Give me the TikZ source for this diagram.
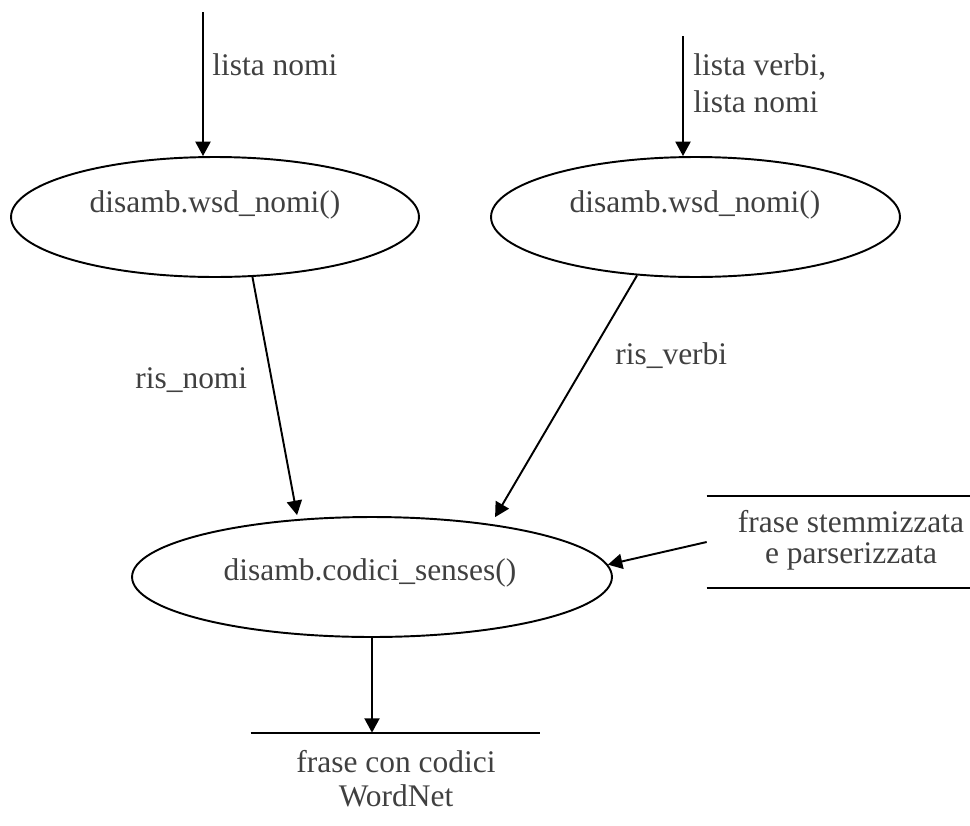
\documentclass[tikz,border=0pt]{standalone}
\usepackage{fontspec}
\setmainfont{Liberation Serif}
\usetikzlibrary{arrows.meta,shapes.geometric}
\definecolor{txt}{RGB}{64,64,64}
\begin{document}
\begin{tikzpicture}[x=0.02cm,y=-0.02cm,
  lbl/.style={inner sep=0pt,text=txt,font=\fontsize{17.9pt}{21pt}\selectfont},
  proc/.style={draw,ellipse,line width=1.1pt,inner sep=0pt,minimum height=2.4cm},
  store/.style={rectangle,inner sep=0pt},
  flow/.style={line width=1.1pt,-{Triangle[length=8.2pt,width=8.6pt]}},
  rule/.style={line width=1.1pt}]
\clip (0,0) rectangle (970,825);

% processes
\node[proc,minimum width=8.16cm] (e1) at (215,217) {};
\node[proc,minimum width=8.18cm] (e2) at (695.5,217) {};
\node[proc,minimum width=9.6cm] (e3) at (372,577) {};
\node[lbl,anchor=base] (t1) at (215,212) {disamb.wsd\_nomi()};
\node[lbl,anchor=base] (t2) at (695,212) {disamb.wsd\_nomi()};
\node[lbl,anchor=base] (t3) at (370,580) {disamb.codici\_senses()};

% data stores
\node[store,minimum width=5.76cm,minimum height=1.84cm] (st) at (851,542) {};
\draw[rule] (st.north west) -- (st.north east);
\draw[rule] (st.south west) -- (st.south east);
\node[lbl,anchor=base] (st1) at (851,532) {frase stemmizzata};
\node[lbl,anchor=base] (st2) at (851,563) {e parserizzata};

\node[store,minimum width=5.78cm,minimum height=1.8cm] (out) at (395.5,778) {};
\draw[rule] (out.north west) -- (out.north east);
\node[lbl,anchor=base] (out1) at (396,772) {frase con codici};
\node[lbl,anchor=base] (out2) at (396,806) {WordNet};

% inputs
\coordinate (in1) at (203,12);
\coordinate (in2) at (683,36);
\draw[flow] (in1) -- (in1 |- e1.north);
\draw[flow] (in2) -- (in2 |- e2.north);
\node[lbl,anchor=base west] (l1) at (212,75) {lista nomi};
\node[lbl,anchor=base west] (l2) at (693,75) {lista verbi,};
\node[lbl,anchor=base west] (l3) at (693,112) {lista nomi};

% results
\draw[flow,shorten >=0.08cm] (e1.-58) -- (e3.142);
\draw[flow,shorten >=0.16cm] (e2.-135) -- (e3.24);
\node[lbl,anchor=base west] (r1) at (135,388) {ris\_nomi};
\node[lbl,anchor=base west] (r2) at (615,364) {ris\_verbi};

\draw[flow] (st.west) -- (e3.3);
\draw[flow] (e3.south) -- (e3.south |- out.north);
\end{tikzpicture}
\end{document}
